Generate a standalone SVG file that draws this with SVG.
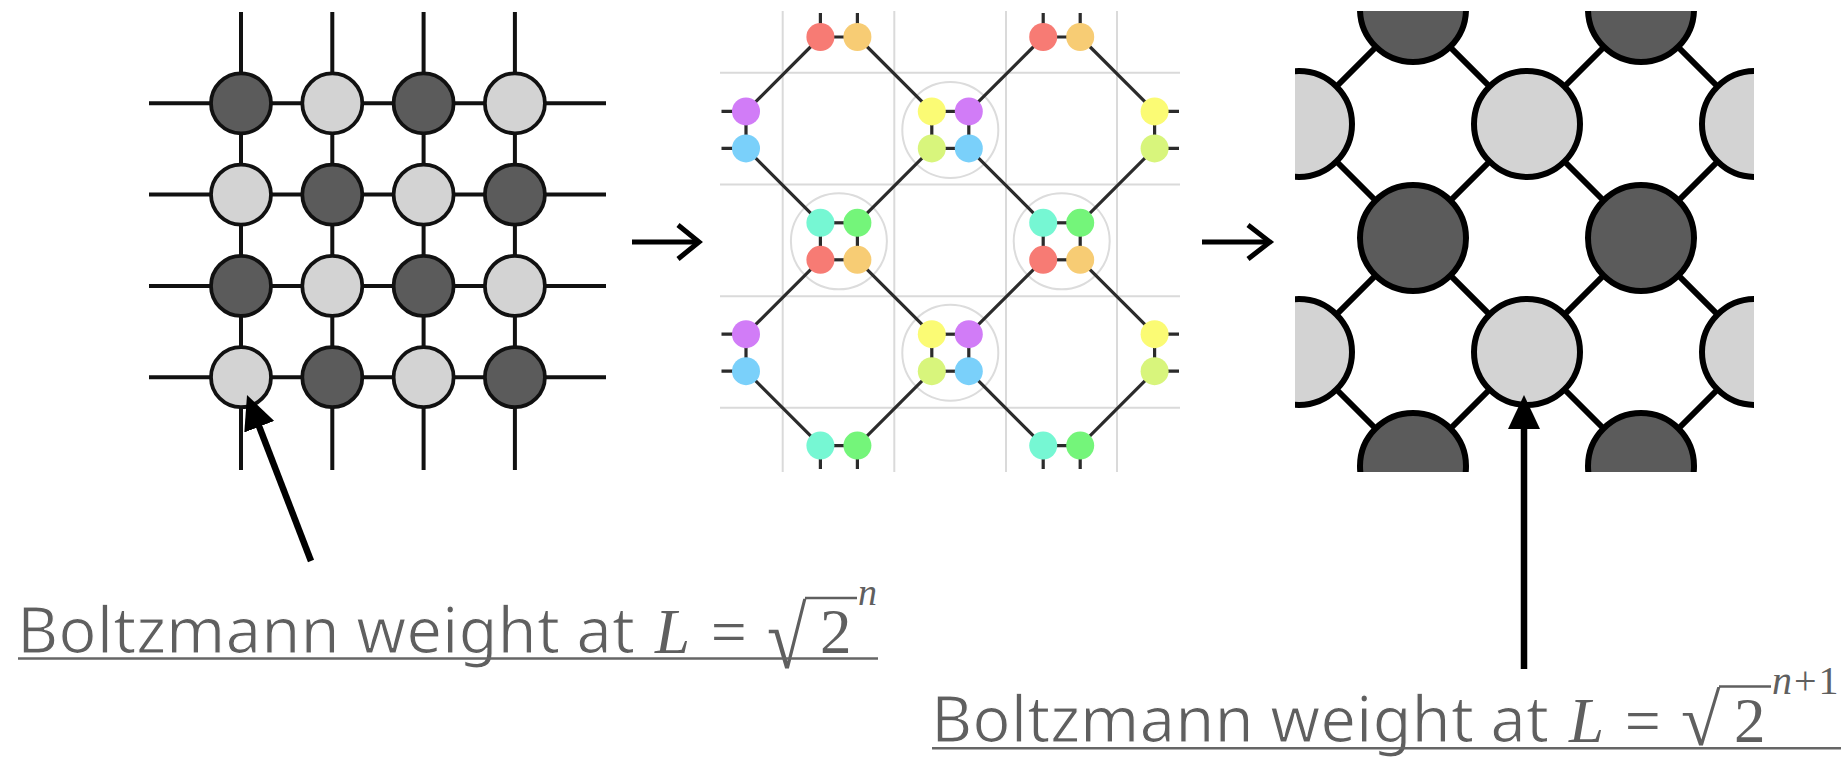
<svg xmlns="http://www.w3.org/2000/svg" width="1848" height="759" viewBox="0 0 1848 759">
<style>
.gl{stroke:#111;stroke-width:4;fill:none}
.dk{fill:#5b5b5b;stroke:#111;stroke-width:3.8}
.lt{fill:#d3d3d3;stroke:#111;stroke-width:3.8}
.grid{stroke:#dadada;stroke-width:2;fill:none}
.ring{stroke:#dcdcdc;stroke-width:2;fill:none}
.bond{stroke:#2b2b2b;stroke-width:3.2;fill:none;stroke-linecap:butt}
.rd{fill:#f77b74}.or{fill:#f7cc74}.pu{fill:#d17cf7}.bl{fill:#7ad0fa}
.ye{fill:#fbfb74}.li{fill:#d8f57c}.cy{fill:#76f7d3}.gr{fill:#74f57a}
.bk{stroke:#000;stroke-width:6;fill:none}
.bdk{fill:#5b5b5b;stroke:#000;stroke-width:6}
.blt{fill:#d3d3d3;stroke:#000;stroke-width:6}
.arr{stroke:#000;stroke-width:6.5;fill:none}
.tr{stroke:#000;stroke-width:5;fill:none}
.sans{font-family:"Noto Sans","Liberation Sans",sans-serif;font-size:64px;fill:#5f5f5f;stroke:#fff;stroke-width:1.2px}
.math{font-family:"Liberation Serif","Times New Roman",serif;font-size:63px;fill:#5f5f5f}
.rad{font-size:72px}
.sup{font-size:38px}
.sup2{font-size:40px;letter-spacing:2px}
.it{font-style:italic}
.ul{stroke:#666;stroke-width:2.6}
.vin{stroke:#5f5f5f;stroke-width:2.6}
</style>
<defs>
<marker id="ah" viewBox="0 0 34 32" refX="4" refY="16" markerWidth="34" markerHeight="32" markerUnits="userSpaceOnUse" orient="auto">
<path d="M0,0 L34,16 L0,32 z" fill="#000"/>
</marker>
<clipPath id="rclip"><rect x="1295" y="11" width="459" height="461"/></clipPath>
</defs>
<rect width="1848" height="759" fill="#fff"/>

<!-- Left panel: square lattice -->
<g id="lattice-n">
<g class="gl">
<line x1="149" y1="103.3" x2="606" y2="103.3"/>
<line x1="149" y1="194.6" x2="606" y2="194.6"/>
<line x1="149" y1="285.9" x2="606" y2="285.9"/>
<line x1="149" y1="377.2" x2="606" y2="377.2"/>
<line x1="241" y1="12" x2="241" y2="470"/>
<line x1="332.3" y1="12" x2="332.3" y2="470"/>
<line x1="423.6" y1="12" x2="423.6" y2="470"/>
<line x1="514.9" y1="12" x2="514.9" y2="470"/>
</g>
<g id="site-1-1"><circle class="dk" cx="241" cy="103.3" r="30"/></g>
<g id="site-1-2"><circle class="lt" cx="332.3" cy="103.3" r="30"/></g>
<g id="site-1-3"><circle class="dk" cx="423.6" cy="103.3" r="30"/></g>
<g id="site-1-4"><circle class="lt" cx="514.9" cy="103.3" r="30"/></g>
<g id="site-2-1"><circle class="lt" cx="241" cy="194.6" r="30"/></g>
<g id="site-2-2"><circle class="dk" cx="332.3" cy="194.6" r="30"/></g>
<g id="site-2-3"><circle class="lt" cx="423.6" cy="194.6" r="30"/></g>
<g id="site-2-4"><circle class="dk" cx="514.9" cy="194.6" r="30"/></g>
<g id="site-3-1"><circle class="dk" cx="241" cy="285.9" r="30"/></g>
<g id="site-3-2"><circle class="lt" cx="332.3" cy="285.9" r="30"/></g>
<g id="site-3-3"><circle class="dk" cx="423.6" cy="285.9" r="30"/></g>
<g id="site-3-4"><circle class="lt" cx="514.9" cy="285.9" r="30"/></g>
<g id="site-4-1"><circle class="lt" cx="241" cy="377.2" r="30"/></g>
<g id="site-4-2"><circle class="dk" cx="332.3" cy="377.2" r="30"/></g>
<g id="site-4-3"><circle class="lt" cx="423.6" cy="377.2" r="30"/></g>
<g id="site-4-4"><circle class="dk" cx="514.9" cy="377.2" r="30"/></g>
</g>

<!-- Middle panel: coarse-graining network -->
<g id="network">
<g class="grid">
<line x1="782.7" y1="11" x2="782.7" y2="472"/>
<line x1="894.3" y1="11" x2="894.3" y2="472"/>
<line x1="1006" y1="11" x2="1006" y2="472"/>
<line x1="1117" y1="11" x2="1117" y2="472"/>
<line x1="720" y1="72.8" x2="1180" y2="72.8"/>
<line x1="720" y1="184.6" x2="1180" y2="184.6"/>
<line x1="720" y1="296.2" x2="1180" y2="296.2"/>
<line x1="720" y1="407.8" x2="1180" y2="407.8"/>
</g>
<g class="ring">
<circle cx="950.3" cy="129.9" r="48"/>
<circle cx="950.3" cy="352.7" r="48"/>
<circle cx="838.9" cy="241.3" r="48"/>
<circle cx="1061.7" cy="241.3" r="48"/>
</g>
<g class="bond">
<line x1="820.4" y1="37" x2="746" y2="111.4"/>
<line x1="857.4" y1="37" x2="931.8" y2="111.4"/>
<line x1="968.8" y1="111.4" x2="1043.2" y2="37"/>
<line x1="1080.2" y1="37" x2="1154.6" y2="111.4"/>
<line x1="746" y1="148.4" x2="820.4" y2="222.8"/>
<line x1="931.8" y1="148.4" x2="857.4" y2="222.8"/>
<line x1="968.8" y1="148.4" x2="1043.2" y2="222.8"/>
<line x1="1154.6" y1="148.4" x2="1080.2" y2="222.8"/>
<line x1="820.4" y1="259.8" x2="746" y2="334.2"/>
<line x1="857.4" y1="259.8" x2="931.8" y2="334.2"/>
<line x1="1043.2" y1="259.8" x2="968.8" y2="334.2"/>
<line x1="1080.2" y1="259.8" x2="1154.6" y2="334.2"/>
<line x1="746" y1="371.2" x2="820.4" y2="445.6"/>
<line x1="931.8" y1="371.2" x2="857.4" y2="445.6"/>
<line x1="968.8" y1="371.2" x2="1043.2" y2="445.6"/>
<line x1="1154.6" y1="371.2" x2="1080.2" y2="445.6"/>
<rect x="820.4" y="222.8" width="37" height="37"/>
<rect x="1043.2" y="222.8" width="37" height="37"/>
<rect x="931.8" y="111.4" width="37" height="37"/>
<rect x="931.8" y="334.2" width="37" height="37"/>
<path d="M820.4,13 V37 H857.4 V13"/>
<path d="M1043.2,13 V37 H1080.2 V13"/>
<path d="M820.4,469 V445.6 H857.4 V469"/>
<path d="M1043.2,469 V445.6 H1080.2 V469"/>
<path d="M721.5,111.4 H746 V148.4 H721.5"/>
<path d="M721.5,334.2 H746 V371.2 H721.5"/>
<path d="M1179,111.4 H1154.6 V148.4 H1179"/>
<path d="M1179,334.2 H1154.6 V371.2 H1179"/>
</g>
<g id="block-top-1"><circle class="rd" cx="820.4" cy="37" r="14"/><circle class="or" cx="857.4" cy="37" r="14"/></g>
<g id="block-top-2"><circle class="rd" cx="1043.2" cy="37" r="14"/><circle class="or" cx="1080.2" cy="37" r="14"/></g>
<g id="block-left-1"><circle class="pu" cx="746" cy="111.4" r="14"/><circle class="bl" cx="746" cy="148.4" r="14"/></g>
<g id="block-left-2"><circle class="pu" cx="746" cy="334.2" r="14"/><circle class="bl" cx="746" cy="371.2" r="14"/></g>
<g id="block-right-1"><circle class="ye" cx="1154.6" cy="111.4" r="14"/><circle class="li" cx="1154.6" cy="148.4" r="14"/></g>
<g id="block-right-2"><circle class="ye" cx="1154.6" cy="334.2" r="14"/><circle class="li" cx="1154.6" cy="371.2" r="14"/></g>
<g id="block-bottom-1"><circle class="cy" cx="820.4" cy="445.6" r="14"/><circle class="gr" cx="857.4" cy="445.6" r="14"/></g>
<g id="block-bottom-2"><circle class="cy" cx="1043.2" cy="445.6" r="14"/><circle class="gr" cx="1080.2" cy="445.6" r="14"/></g>
<g id="block-B1"><circle class="ye" cx="931.8" cy="111.4" r="14"/><circle class="pu" cx="968.8" cy="111.4" r="14"/><circle class="li" cx="931.8" cy="148.4" r="14"/><circle class="bl" cx="968.8" cy="148.4" r="14"/></g>
<g id="block-B2"><circle class="ye" cx="931.8" cy="334.2" r="14"/><circle class="pu" cx="968.8" cy="334.2" r="14"/><circle class="li" cx="931.8" cy="371.2" r="14"/><circle class="bl" cx="968.8" cy="371.2" r="14"/></g>
<g id="block-A1"><circle class="cy" cx="820.4" cy="222.8" r="14"/><circle class="gr" cx="857.4" cy="222.8" r="14"/><circle class="rd" cx="820.4" cy="259.8" r="14"/><circle class="or" cx="857.4" cy="259.8" r="14"/></g>
<g id="block-A2"><circle class="cy" cx="1043.2" cy="222.8" r="14"/><circle class="gr" cx="1080.2" cy="222.8" r="14"/><circle class="rd" cx="1043.2" cy="259.8" r="14"/><circle class="or" cx="1080.2" cy="259.8" r="14"/></g>
</g>

<!-- Right panel: rotated lattice -->
<g id="lattice-n1" clip-path="url(#rclip)">
<g class="bk">
<line x1="1299" y1="124" x2="1413" y2="10"/>
<line x1="1299" y1="124" x2="1413" y2="238"/>
<line x1="1527" y1="124" x2="1413" y2="10"/>
<line x1="1527" y1="124" x2="1641" y2="10"/>
<line x1="1527" y1="124" x2="1413" y2="238"/>
<line x1="1527" y1="124" x2="1641" y2="238"/>
<line x1="1755" y1="124" x2="1641" y2="10"/>
<line x1="1755" y1="124" x2="1641" y2="238"/>
<line x1="1299" y1="352" x2="1413" y2="238"/>
<line x1="1299" y1="352" x2="1413" y2="466"/>
<line x1="1527" y1="352" x2="1413" y2="238"/>
<line x1="1527" y1="352" x2="1641" y2="238"/>
<line x1="1527" y1="352" x2="1413" y2="466"/>
<line x1="1527" y1="352" x2="1641" y2="466"/>
<line x1="1755" y1="352" x2="1641" y2="238"/>
<line x1="1755" y1="352" x2="1641" y2="466"/>
</g>
<g id="r-d1"><circle class="bdk" cx="1413" cy="9" r="53"/></g>
<g id="r-d2"><circle class="bdk" cx="1641" cy="9" r="53"/></g>
<g id="r-l1"><circle class="blt" cx="1299" cy="124" r="53"/></g>
<g id="r-l2"><circle class="blt" cx="1527" cy="124" r="53"/></g>
<g id="r-l3"><circle class="blt" cx="1755" cy="124" r="53"/></g>
<g id="r-d3"><circle class="bdk" cx="1413" cy="238" r="53"/></g>
<g id="r-d4"><circle class="bdk" cx="1641" cy="238" r="53"/></g>
<g id="r-l4"><circle class="blt" cx="1299" cy="352" r="53"/></g>
<g id="r-l5"><circle class="blt" cx="1527" cy="352" r="53"/></g>
<g id="r-l6"><circle class="blt" cx="1755" cy="352" r="53"/></g>
<g id="r-d5"><circle class="bdk" cx="1413" cy="466" r="53"/></g>
<g id="r-d6"><circle class="bdk" cx="1641" cy="466" r="53"/></g>
</g>

<!-- Connectors -->
<g id="connectors">
<path class="tr" d="M632,242 H697"/>
<path class="tr" d="M678,225 L699,242 L678,259" stroke-width="4"/>
<path class="tr" d="M1202,242 H1268"/>
<path class="tr" d="M1248,225 L1270,242 L1248,259" stroke-width="4"/>
<line class="arr" x1="311" y1="561" x2="257.8" y2="423" marker-end="url(#ah)"/>
<line class="arr" x1="1524" y1="669" x2="1524" y2="425" marker-end="url(#ah)"/>
</g>

<!-- Labels -->
<g id="label-n">
<text class="sans" x="17" y="653" textLength="618" lengthAdjust="spacingAndGlyphs">Boltzmann weight at</text>
<text class="math it" x="655" y="653">L</text>
<text class="math" x="711" y="653">=</text>
<text class="math rad" transform="translate(767 668) scale(1 1.215)">√</text>
<line class="vin" x1="805" y1="598" x2="857" y2="598"/>
<text class="math" x="820" y="653">2</text>
<text class="math sup it" x="858" y="605">n</text>
<line class="ul" x1="18" y1="658.5" x2="878" y2="658.5"/>
</g>
<g id="label-n1">
<text class="sans" x="931" y="741.7" textLength="618" lengthAdjust="spacingAndGlyphs">Boltzmann weight at</text>
<text class="math it" x="1569" y="741.7">L</text>
<text class="math" x="1625" y="741.7">=</text>
<text class="math rad" transform="translate(1681 745) scale(1 1.02)">√</text>
<line class="vin" x1="1719" y1="686.5" x2="1771" y2="686.5"/>
<text class="math" x="1734" y="741.7">2</text>
<text class="math sup2" x="1772" y="693.5"><tspan class="it">n</tspan>+1</text>
<line class="ul" x1="932" y1="748.3" x2="1841" y2="748.3"/>
</g>
</svg>
